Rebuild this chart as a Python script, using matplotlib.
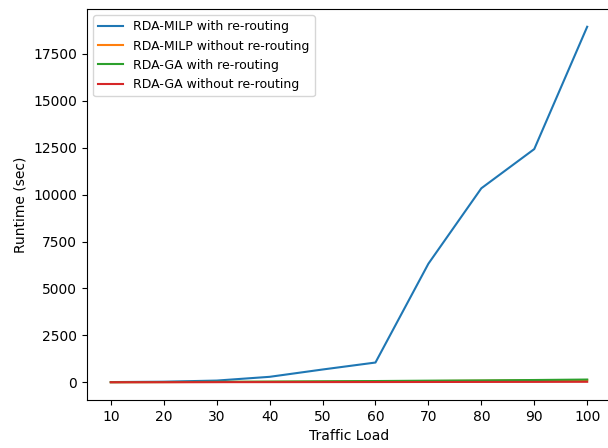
import matplotlib
matplotlib.use("Agg")
import matplotlib.pyplot as plt

traffic_load = [10, 20, 30, 40, 50, 60, 70, 80, 90, 100]
milp_reroute = [10, 30, 90, 290, 680, 1052, 6320, 10340, 12430, 18950]
milp_no_reroute = [3, 8, 15, 25, 35, 50, 65, 80, 100, 120]
ga_reroute = [5, 12, 22, 35, 50, 65, 85, 100, 120, 145]
ga_no_reroute = [2, 4, 6, 8, 10, 12, 15, 18, 20, 25]

fig = plt.figure(figsize=(6.08, 4.48), dpi=100)
ax = fig.add_axes([87/608, 1-400/448, (611-87)/608, (400-9)/448])

ax.plot(traffic_load, milp_reroute, label="RDA-MILP with re-routing")
ax.plot(traffic_load, milp_no_reroute, label="RDA-MILP without re-routing")
ax.plot(traffic_load, ga_reroute, label="RDA-GA with re-routing")
ax.plot(traffic_load, ga_no_reroute, label="RDA-GA without re-routing")

ax.set_xticks(traffic_load)
ax.set_xlabel("Traffic Load")
ax.set_ylabel("Runtime (sec)")
ax.legend(loc="upper left", fontsize=9)

fig.savefig("out.png", dpi=100)
